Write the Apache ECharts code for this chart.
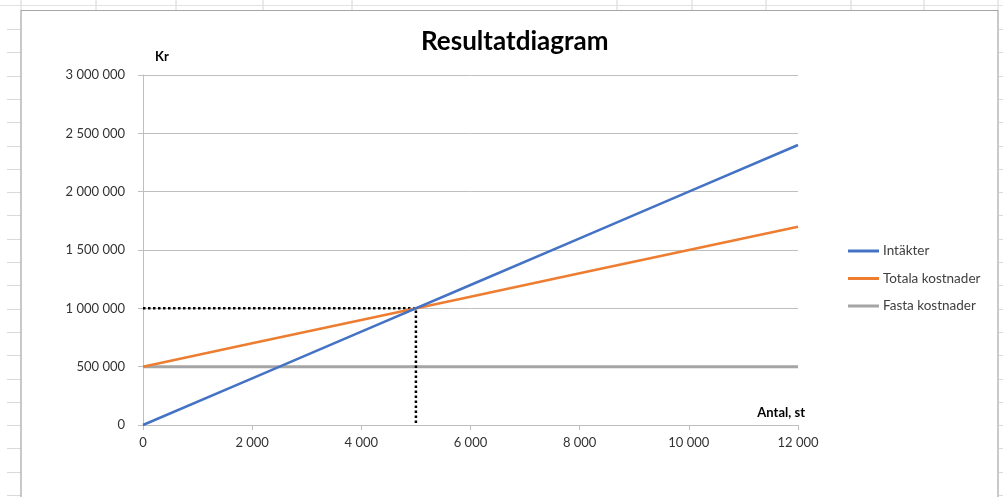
<!DOCTYPE html>
<html>
<head>
<meta charset="utf-8">
<script src="https://cdn.jsdelivr.net/npm/echarts@6/dist/echarts.min.js"></script>
<style>
  html, body { margin: 0; padding: 0; background: #fff; }
  #chart { width: 1003px; height: 497px; }
</style>
</head>
<body>
<div id="chart"></div>
<script>
// Resultatdiagram - break-even chart

const antal = [0, 2000, 4000, 6000, 8000, 10000, 12000];
const intakter = [0, 400000, 800000, 1200000, 1600000, 2000000, 2400000];
const totalaKostnader = [500000, 700000, 900000, 1100000, 1300000, 1500000, 1700000];
const fastaKostnader = [500000, 500000, 500000, 500000, 500000, 500000, 500000];
// Brytpunkt (dotted guide lines)
const brytpunktX = [0, 5000, 5000];
const brytpunktY = [1000000, 1000000, 0];

const seriesNames = ["Intäkter", "Totala kostnader", "Fasta kostnader"];

const font = "Lato, 'Open Sans', sans-serif";

function fmt(v) {
  return String(v).replace(/\B(?=(\d{3})+(?!\d))/g, " ");
}

function pairs(xs, ys) {
  return xs.map((x, i) => [x, ys[i]]);
}

// Spreadsheet grid behind the chart object
const sheetLines = [];
const colX = [21, 96, 176, 263, 352, 617, 692, 766, 851, 924, 998];
colX.forEach((x) => {
  sheetLines.push({ type: "line", shape: { x1: x, y1: 0, x2: x, y2: 10 }, style: { stroke: "#d4d4d4", lineWidth: 1 } });
});
sheetLines.push({ type: "line", shape: { x1: 0, y1: 5.5, x2: 1003, y2: 5.5 }, style: { stroke: "#e2e2e2", lineWidth: 1 } });
for (let y = 29; y < 497; y += 23.3) {
  sheetLines.push({ type: "line", shape: { x1: 7, y1: Math.round(y) + 0.5, x2: 21, y2: Math.round(y) + 0.5 }, style: { stroke: "#dadada", lineWidth: 1 } });
  sheetLines.push({ type: "line", shape: { x1: 999, y1: Math.round(y) + 0.5, x2: 1003, y2: Math.round(y) + 0.5 }, style: { stroke: "#dadada", lineWidth: 1 } });
}
// chart object border
sheetLines.push({ type: "rect", shape: { x: 21, y: 10.5, width: 977, height: 500 }, style: { fill: "#fff", stroke: "#a6a6a6", lineWidth: 1.2 }, z: -1 });

const chart = echarts.init(document.getElementById("chart"));

chart.setOption({
  animation: false,
  textStyle: { fontFamily: font },
  title: {
    text: "Resultatdiagram",
    left: 416,
    top: 24,
    textStyle: { fontFamily: font, fontSize: 26, fontWeight: "bold", color: "#000" },
  },
  graphic: sheetLines.map((g) => Object.assign({ silent: true, z: g.z === undefined ? -1 : g.z }, g)),
  legend: {
    data: seriesNames,
    orient: "vertical",
    left: 843,
    top: 239,
    icon: "rect",
    itemWidth: 31,
    itemHeight: 3,
    itemGap: 13.5,
    textStyle: { fontFamily: font, fontSize: 13.5, color: "#404040", padding: [0, 0, 0, -1] },
  },
  grid: { left: 143, right: 205, top: 75, bottom: 72 },
  xAxis: {
    type: "value",
    min: 0,
    max: 12000,
    interval: 2000,
    name: "Antal, st",
    nameLocation: "end",
    nameGap: 7,
    nameTextStyle: {
      fontFamily: font, fontSize: 13, fontWeight: "bold", color: "#000",
      align: "right", verticalAlign: "bottom", padding: [0, 0, 6, 0],
    },
    axisLine: { show: true, lineStyle: { color: "#bfbfbf", width: 1 } },
    axisTick: { show: true, length: 5, lineStyle: { color: "#bfbfbf" } },
    axisLabel: { formatter: fmt, fontSize: 13, color: "#333", margin: 11 },
    splitLine: { show: false },
  },
  yAxis: {
    type: "value",
    min: 0,
    max: 3000000,
    interval: 500000,
    name: "Kr",
    nameLocation: "end",
    nameGap: 12,
    nameTextStyle: {
      fontFamily: font, fontSize: 13, fontWeight: "bold", color: "#000",
      align: "left", padding: [0, 0, 0, 12],
    },
    axisLine: { show: true, lineStyle: { color: "#bfbfbf", width: 1 } },
    axisTick: { show: true, length: 5, lineStyle: { color: "#bfbfbf" } },
    axisLabel: { formatter: fmt, fontSize: 13, color: "#333", margin: 18 },
    splitLine: { show: true, lineStyle: { color: "#bfbfbf", width: 1 } },
  },
  series: [
    {
      name: "Fasta kostnader",
      type: "line",
      data: pairs(antal, fastaKostnader),
      symbol: "none",
      lineStyle: { color: "#a5a5a5", width: 3 },
      itemStyle: { color: "#a5a5a5" },
      z: 2,
    },
    {
      name: "Brytpunkt",
      type: "line",
      data: pairs(brytpunktX, brytpunktY),
      symbol: "none",
      lineStyle: { color: "#000", width: 2.5, type: [2.5, 2.5] },
      z: 3,
    },
    {
      name: "Totala kostnader",
      type: "line",
      data: pairs(antal, totalaKostnader),
      symbol: "none",
      lineStyle: { color: "#ed7d31", width: 2.5 },
      itemStyle: { color: "#ed7d31" },
      z: 4,
    },
    {
      name: "Intäkter",
      type: "line",
      data: pairs(antal, intakter),
      symbol: "none",
      lineStyle: { color: "#4472c4", width: 2.5 },
      itemStyle: { color: "#4472c4" },
      z: 5,
    },
  ],
});
</script>
</body>
</html>
